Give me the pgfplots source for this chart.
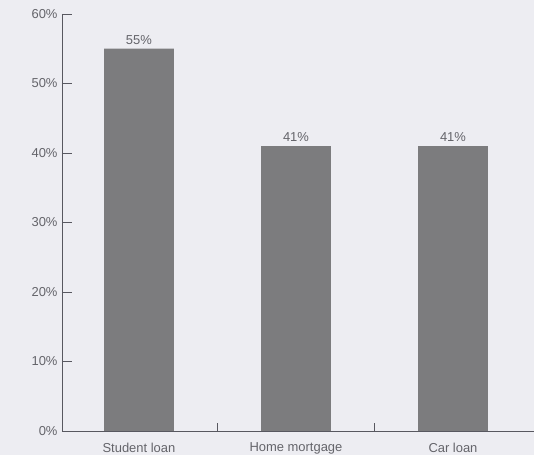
\documentclass[border=0pt]{standalone}
\usepackage{pgfplots}
\pgfplotsset{compat=1.18}
\usepackage{fontspec}
\setmainfont{Liberation Sans}
\usetikzlibrary{backgrounds}
\definecolor{bg}{RGB}{237,237,242}
\definecolor{barc}{RGB}{124,124,126}
\definecolor{axc}{RGB}{88,88,96}
\definecolor{txt}{RGB}{100,100,106}
\begin{document}
\begin{tikzpicture}[show background rectangle, inner frame sep=0pt, background rectangle/.style={fill=bg, draw=none}]
\begin{axis}[
  name=ax,
  scale only axis,
  width=472bp, height=417bp,
  xmin=-0.49, xmax=2.516,
  ymin=0, ymax=60,
  axis line style={draw=none},
  xtick pos=bottom, ytick pos=left,
  tick align=inside,
  ytick={0,10,20,30,40,50,60},
  yticklabels={0\%,10\%,20\%,30\%,40\%,50\%,60\%},
  xtick={0,1,2},
  xticklabels={Student loan, Home mortgage, Car loan},
  extra x ticks={0.5,1.5},
  extra x tick labels={},
  extra x tick style={major tick length=-8bp, xtick style={draw=axc, line width=0.9pt}},
  xtick style={draw=none},
  major tick length=10bp,
  y tick style={draw=axc, line width=0.9pt},
  ticklabel style={font=\fontsize{13}{15}\selectfont, text=txt},
  xticklabel style={yshift=1.5bp},
  yticklabel style={xshift=-1bp},
  /pgf/number format/assume math mode=true,
  ybar,
  bar width=0.445,
  nodes near coords={\pgfmathprintnumber[assume math mode=true]{\pgfplotspointmeta}\%},
  every node near coord/.append style={font=\fontsize{13}{15}\selectfont, text=txt, yshift=1bp},
  clip=false,
]
\addplot[fill=barc, draw=none] coordinates {(0,55) (1,41) (2,41)};
\draw[axc, line width=0.9pt] (rel axis cs:0,1) -- (rel axis cs:0,0) -- (rel axis cs:1,0);
\end{axis}
\pgfresetboundingbox
\path[use as bounding box] ([xshift=-62bp,yshift=-24bp]ax.south west) rectangle ([yshift=14bp]ax.north east);
\end{tikzpicture}
\end{document}
